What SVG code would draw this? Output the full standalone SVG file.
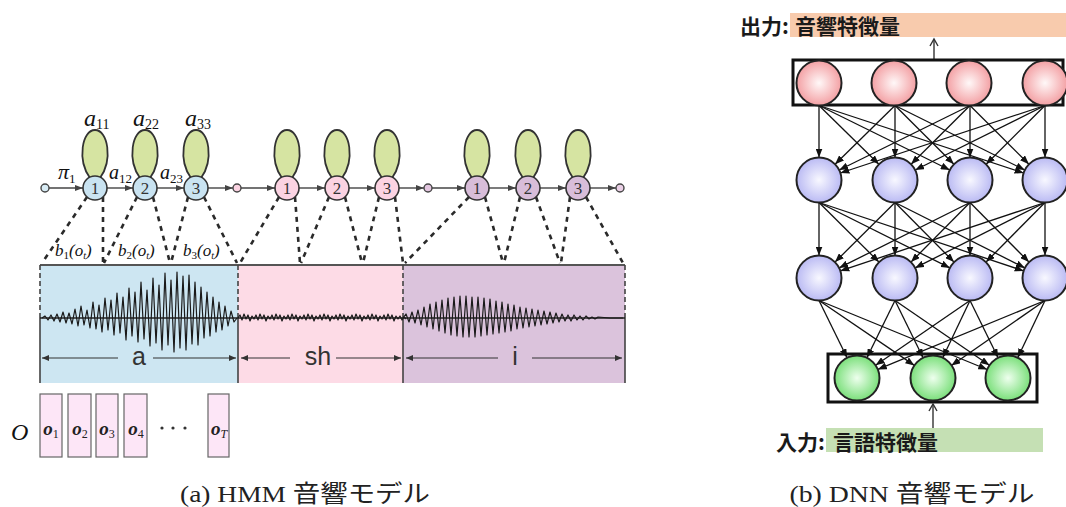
<svg xmlns="http://www.w3.org/2000/svg" width="1066" height="507" viewBox="0 0 1066 507">
<style>
.loop{fill:#d6e4a2;stroke:#333;stroke-width:1.8}
.sb{fill:#c9e3f1;stroke:#333;stroke-width:1.6}
.sp{fill:#fbd3e2;stroke:#333;stroke-width:1.6}
.su{fill:#d8bdd9;stroke:#333;stroke-width:1.6}
.num{font-family:"Liberation Serif",serif;font-size:17px;fill:#333;text-anchor:middle}
.mi{font-family:"Liberation Serif",serif;font-style:italic;fill:#111}
.tr{stroke:#444;stroke-width:1.4;fill:none;marker-end:url(#ah)}
.dash{stroke:#2a2a2a;stroke-width:2.6;stroke-dasharray:5 5;fill:none}
.vb{stroke:#444;stroke-width:1.6;fill:none}
.vd{stroke:#444;stroke-width:1.6;stroke-dasharray:5 3;fill:none}
.wave{stroke:#1a1a1a;stroke-width:1.2;fill:none;stroke-linejoin:round}
.dim{stroke:#333;stroke-width:1.2;fill:none;marker-end:url(#ah2)}
.ph{font-family:"Liberation Sans","DejaVu Sans",sans-serif;font-size:25px;fill:#333;text-anchor:middle}
.ob{fill:#fde6f7;stroke:#666;stroke-width:1.2}
.ot{font-family:"Liberation Serif",serif;font-style:italic;font-weight:bold;font-size:19px;fill:#222;text-anchor:middle}
.nn{stroke:#111;stroke-width:1.3;fill:none;marker-end:url(#ah3)}
.nc{stroke:#222;stroke-width:2}
.lay{fill:none;stroke:#111;stroke-width:3}
.jp{font-family:"Noto Sans CJK JP",sans-serif;font-weight:bold;font-size:21px;fill:#1a1a1a}
.cap{font-family:"Liberation Serif","Noto Sans CJK JP",serif;font-size:24px;fill:#222;text-anchor:middle}
</style>
<defs>
<marker id="ah" markerUnits="userSpaceOnUse" markerWidth="8" markerHeight="6" refX="8" refY="3" orient="auto"><path d="M0,0 L8,3 L0,6 z" fill="#444"/></marker>
<marker id="ah2" markerUnits="userSpaceOnUse" markerWidth="7" markerHeight="6" refX="7" refY="3" orient="auto"><path d="M0,0 L7,3 L0,6 z" fill="#333"/></marker>
<marker id="ah3" markerUnits="userSpaceOnUse" markerWidth="9" markerHeight="7" refX="9" refY="3.5" orient="auto"><path d="M0,0 L9,3.5 L0,7 z" fill="#111"/></marker>
<marker id="ao" markerUnits="userSpaceOnUse" markerWidth="10" markerHeight="10" refX="8" refY="5" orient="auto"><path d="M1,1 L8,5 L1,9" fill="none" stroke="#333" stroke-width="1.4"/></marker>
<radialGradient id="gR" cx="50%" cy="50%" r="55%"><stop offset="0" stop-color="#fff8f8"/><stop offset="1" stop-color="#f2979b"/></radialGradient>
<radialGradient id="gB" cx="50%" cy="50%" r="55%"><stop offset="0" stop-color="#f8f8ff"/><stop offset="1" stop-color="#b4b4f2"/></radialGradient>
<radialGradient id="gG" cx="50%" cy="50%" r="55%"><stop offset="0" stop-color="#eeffee"/><stop offset="1" stop-color="#6fdc6f"/></radialGradient>
</defs>

<!-- ===== (a) HMM ===== -->
<g id="waveform">
<rect x="40" y="265" width="198" height="118" fill="#cde6f2"/>
<rect x="238" y="265" width="165" height="118" fill="#fddbe6"/>
<rect x="403" y="265" width="222" height="118" fill="#dbc3dc"/>
<line x1="40" y1="265" x2="625" y2="265" stroke="#555" stroke-width="2"/>
<path class="vd" d="M40,265 V318 M238,265 V318 M403,265 V318 M625,265 V318"/>
<path class="vb" d="M40,318 V383 M238,318 V383 M403,318 V383 M625,318 V383"/>
<line x1="40" y1="318" x2="625" y2="318" stroke="#222" stroke-width="1.5"/>
<polyline class="wave" points="42,318 45,316 48,320 51,315 54,321 57,314 60,322 63,312 66,323 69,313 72,324 75,309 78,326 81,306 84,325 87,310 90,328 93,302 96,329 99,305 102,332 105,298 108,330 111,300 114,335 117,293 120,333 123,297 126,340 129,288 132,336 135,292 138,342 141,282 144,339 147,290 150,346 153,278 156,343 159,285 162,350 165,273 168,345 171,280 174,352 177,272 180,348 183,276 186,350 189,275 192,344 195,282 198,345 201,287 204,338 207,292 210,336 213,297 216,332 219,302 222,330 225,306 228,326 231,311 234,322 237,318"/>
<path class="wave" d="M238,318 l2,-3 l2,5 l2,-6 l2,5 l2,-4 l2,6 l2,-5 l2,3 l2,-4 l2,5 l2,-6 l2,5 l2,-4 l2,6 l2,-5 l2,3 l2,-4 l2,5 l2,-6 l2,5 l2,-4 l2,6 l2,-5 l2,3 l2,-4 l2,5 l2,-6 l2,5 l2,-4 l2,6 l2,-5 l2,3 l2,-4 l2,5 l2,-6 l2,5 l2,-4 l2,6 l2,-5 l2,3 l2,-4 l2,5 l2,-6 l2,5 l2,-4 l2,6 l2,-5 l2,3 l2,-4 l2,5 l2,-6 l2,5 l2,-4 l2,6 l2,-5 l2,3 l2,-4 l2,5 l2,-6 l2,5 l2,-4 l2,6 l2,-5 l2,3 l2,-4 l2,5 l2,-6 l2,5 l2,-4 l2,6 l2,-5 l2,3 l2,-4 l2,5 l2,-6 l2,5 l2,-4 l2,6 l2,-5 l2,3 l2,-3 l2,4 l2,-3 l2,2"/>
<polyline class="wave" points="403,318 406,314 409,322 412,312 415,323 418,310 421,325 424,307 427,327 430,304 433,329 436,302 439,331 442,300 445,333 448,298 451,335 454,297 457,336 460,296 463,337 466,296 469,337 472,297 475,337 478,297 481,336 484,298 487,335 490,299 493,334 496,301 499,333 502,302 505,332 508,304 511,331 514,305 517,329 520,307 523,328 526,308 529,327 532,309 535,326 538,310 541,325 544,311 547,324 550,312 553,323 556,313 559,322 562,314 565,321 568,315 571,321 574,315 577,320 580,316 583,320 586,316 589,319 592,317 595,319 598,317 610,318 623,318"/>
</g>

<g id="phone-labels">
<line class="dim" x1="118" y1="358" x2="42" y2="358"/>
<line class="dim" x1="153" y1="358" x2="236" y2="358"/>
<text class="ph" x="139" y="365">a</text>
<line class="dim" x1="290" y1="358" x2="241" y2="358"/>
<line class="dim" x1="336" y1="358" x2="401" y2="358"/>
<text class="ph" x="318" y="365">sh</text>
<line class="dim" x1="498" y1="358" x2="406" y2="358"/>
<line class="dim" x1="532" y1="358" x2="622" y2="358"/>
<text class="ph" x="515" y="365">i</text>
</g>

<g id="emissions">
<path class="dash" d="M87,197 L42,263 M103,197 L103,263 M137,197 L104,263 M153,197 L170,263 M188,197 L171,263 M204,197 L237,263"/>
<path class="dash" d="M279,197 L240,263 M295,197 L300,263 M329,197 L301,263 M345,197 L362,263 M379,197 L363,263 M395,197 L403,263"/>
<path class="dash" d="M469,197 L405,263 M485,197 L503,263 M520,197 L504,263 M536,197 L560,263 M570,197 L561,263 M586,197 L623,263"/>
<text class="mi" x="55" y="256" font-size="17">b<tspan font-size="11" dy="3" font-style="normal">1</tspan><tspan dy="-3">(</tspan>o<tspan font-size="10" dy="3">t</tspan><tspan dy="-3">)</tspan></text>
<text class="mi" x="118" y="256" font-size="17">b<tspan font-size="11" dy="3" font-style="normal">2</tspan><tspan dy="-3">(</tspan>o<tspan font-size="10" dy="3">t</tspan><tspan dy="-3">)</tspan></text>
<text class="mi" x="183" y="256" font-size="17">b<tspan font-size="11" dy="3" font-style="normal">3</tspan><tspan dy="-3">(</tspan>o<tspan font-size="10" dy="3">t</tspan><tspan dy="-3">)</tspan></text>
</g>

<g id="hmm-transitions">
<circle cx="45" cy="188" r="4" fill="#d8ecf5" stroke="#444" stroke-width="1.4"/>
<circle cx="237" cy="188" r="4" fill="#fbd3e2" stroke="#444" stroke-width="1.4"/>
<circle cx="428" cy="188" r="4" fill="#e3c6e0" stroke="#444" stroke-width="1.4"/>
<circle cx="620" cy="188" r="4" fill="#ead0e6" stroke="#444" stroke-width="1.4"/>
<line class="tr" x1="49" y1="188" x2="83" y2="188"/>
<line class="tr" x1="107" y1="188" x2="133" y2="188"/>
<line class="tr" x1="157" y1="188" x2="184" y2="188"/>
<line class="tr" x1="208" y1="188" x2="233" y2="188"/>
<line class="tr" x1="241" y1="188" x2="275" y2="188"/>
<line class="tr" x1="299" y1="188" x2="325" y2="188"/>
<line class="tr" x1="349" y1="188" x2="375" y2="188"/>
<line class="tr" x1="399" y1="188" x2="424" y2="188"/>
<line class="tr" x1="432" y1="188" x2="465" y2="188"/>
<line class="tr" x1="489" y1="188" x2="516" y2="188"/>
<line class="tr" x1="540" y1="188" x2="566" y2="188"/>
<line class="tr" x1="590" y1="188" x2="616" y2="188"/>
</g>

<g id="state-a1"><path class="loop" d="M90,178 C77,160 82,130 95,130 C108,130 113,160 100,178 Z"/><circle class="sb" cx="95" cy="188" r="12"/><text class="num" x="95" y="194">1</text></g>
<g id="state-a2"><path class="loop" d="M140,178 C127,160 132,130 145,130 C158,130 163,160 150,178 Z"/><circle class="sb" cx="145" cy="188" r="12"/><text class="num" x="145" y="194">2</text></g>
<g id="state-a3"><path class="loop" d="M191,178 C178,160 183,130 196,130 C209,130 214,160 201,178 Z"/><circle class="sb" cx="196" cy="188" r="12"/><text class="num" x="196" y="194">3</text></g>
<g id="state-sh1"><path class="loop" d="M282,178 C269,160 274,130 287,130 C300,130 305,160 292,178 Z"/><circle class="sp" cx="287" cy="188" r="12"/><text class="num" x="287" y="194">1</text></g>
<g id="state-sh2"><path class="loop" d="M332,178 C319,160 324,130 337,130 C350,130 355,160 342,178 Z"/><circle class="sp" cx="337" cy="188" r="12"/><text class="num" x="337" y="194">2</text></g>
<g id="state-sh3"><path class="loop" d="M382,178 C369,160 374,130 387,130 C400,130 405,160 392,178 Z"/><circle class="sp" cx="387" cy="188" r="12"/><text class="num" x="387" y="194">3</text></g>
<g id="state-i1"><path class="loop" d="M472,178 C459,160 464,130 477,130 C490,130 495,160 482,178 Z"/><circle class="su" cx="477" cy="188" r="12"/><text class="num" x="477" y="194">1</text></g>
<g id="state-i2"><path class="loop" d="M523,178 C510,160 515,130 528,130 C541,130 546,160 533,178 Z"/><circle class="su" cx="528" cy="188" r="12"/><text class="num" x="528" y="194">2</text></g>
<g id="state-i3"><path class="loop" d="M573,178 C560,160 565,130 578,130 C591,130 596,160 583,178 Z"/><circle class="su" cx="578" cy="188" r="12"/><text class="num" x="578" y="194">3</text></g>

<g id="hmm-labels">
<text class="mi" x="84" y="126" font-size="24">a<tspan font-size="14" dy="3" font-style="normal">11</tspan></text>
<text class="mi" x="133" y="126" font-size="24">a<tspan font-size="14" dy="3" font-style="normal">22</tspan></text>
<text class="mi" x="185" y="126" font-size="24">a<tspan font-size="14" dy="3" font-style="normal">33</tspan></text>
<text class="mi" x="58" y="179" font-size="22">π<tspan font-size="13" dy="4" font-style="normal">1</tspan></text>
<text class="mi" x="109" y="179" font-size="20">a<tspan font-size="13" dy="4" font-style="normal">12</tspan></text>
<text class="mi" x="160" y="179" font-size="20">a<tspan font-size="13" dy="4" font-style="normal">23</tspan></text>
</g>

<g id="observations">
<text class="mi" x="11" y="440" font-size="24">O</text>
<rect class="ob" x="40" y="394" width="22" height="63"/>
<rect class="ob" x="68" y="394" width="23" height="63"/>
<rect class="ob" x="96" y="394" width="22" height="63"/>
<rect class="ob" x="124" y="394" width="23" height="63"/>
<rect class="ob" x="208" y="394" width="21" height="63"/>
<text class="ot" x="51" y="435">o<tspan font-size="12" dy="3" font-style="normal" font-weight="normal">1</tspan></text>
<text class="ot" x="80" y="435">o<tspan font-size="12" dy="3" font-style="normal" font-weight="normal">2</tspan></text>
<text class="ot" x="107" y="435">o<tspan font-size="12" dy="3" font-style="normal" font-weight="normal">3</tspan></text>
<text class="ot" x="136" y="435">o<tspan font-size="12" dy="3" font-style="normal" font-weight="normal">4</tspan></text>
<text class="ot" x="219" y="435">o<tspan font-size="12" dy="3" font-style="italic" font-weight="normal">T</tspan></text>
<circle cx="162" cy="428" r="1.6" fill="#333"/>
<circle cx="173" cy="428" r="1.6" fill="#333"/>
<circle cx="185" cy="428" r="1.6" fill="#333"/>
</g>

<text class="cap" x="305" y="502" textLength="250" lengthAdjust="spacingAndGlyphs">(a) HMM 音響モデル</text>

<!-- ===== (b) DNN ===== -->
<g id="output-label">
<rect x="790" y="13" width="276" height="24" fill="#f8cbad"/>
<text class="jp" x="740" y="34">出力:</text>
<text class="jp" x="795" y="34">音響特徴量</text>
<line x1="934" y1="60" x2="934" y2="39" stroke="#333" stroke-width="1.4" marker-end="url(#ao)"/>
</g>

<g id="connectors">
<path class="nn" d="M819,105.5 L819,157.5"/>
<path class="nn" d="M819,105.5 L878.9,164.2"/>
<path class="nn" d="M819,105.5 L949.8,170"/>
<path class="nn" d="M819,105.5 L1023.6,173"/>
<path class="nn" d="M895,105.5 L835.1,164.2"/>
<path class="nn" d="M895,105.5 L895,157.5"/>
<path class="nn" d="M895,105.5 L953.9,164.2"/>
<path class="nn" d="M895,105.5 L1024.8,170"/>
<path class="nn" d="M970,105.5 L839.2,170"/>
<path class="nn" d="M970,105.5 L911.1,164.2"/>
<path class="nn" d="M970,105.5 L970,157.5"/>
<path class="nn" d="M970,105.5 L1028.9,164.2"/>
<path class="nn" d="M1045,105.5 L840.4,173"/>
<path class="nn" d="M1045,105.5 L915.2,170"/>
<path class="nn" d="M1045,105.5 L986.1,164.2"/>
<path class="nn" d="M1045,105.5 L1045,157.5"/>

<path class="nn" d="M819,202.5 L819,255.5"/>
<path class="nn" d="M819,202.5 L879,262.1"/>
<path class="nn" d="M819,202.5 L949.9,267.9"/>
<path class="nn" d="M819,202.5 L1023.7,270.9"/>
<path class="nn" d="M895,202.5 L835,262.1"/>
<path class="nn" d="M895,202.5 L895,255.5"/>
<path class="nn" d="M895,202.5 L954,262.1"/>
<path class="nn" d="M895,202.5 L1024.9,267.9"/>
<path class="nn" d="M970,202.5 L839.1,267.9"/>
<path class="nn" d="M970,202.5 L911,262.1"/>
<path class="nn" d="M970,202.5 L970,255.5"/>
<path class="nn" d="M970,202.5 L1029,262.1"/>
<path class="nn" d="M1045,202.5 L840.3,270.9"/>
<path class="nn" d="M1045,202.5 L915.1,267.9"/>
<path class="nn" d="M1045,202.5 L986,262.1"/>
<path class="nn" d="M1045,202.5 L1045,255.5"/>

<path class="nn" d="M819,300.5 L847.1,357.8"/>
<path class="nn" d="M819,300.5 L914.4,365.4"/>
<path class="nn" d="M819,300.5 L987.2,369.5"/>
<path class="nn" d="M895,300.5 L866.9,357.8"/>
<path class="nn" d="M895,300.5 L923.1,357.8"/>
<path class="nn" d="M895,300.5 L989.4,365.3"/>
<path class="nn" d="M970,300.5 L875.6,365.3"/>
<path class="nn" d="M970,300.5 L942.7,357.7"/>
<path class="nn" d="M970,300.5 L998.1,357.8"/>
<path class="nn" d="M1045,300.5 L877.8,369.4"/>
<path class="nn" d="M1045,300.5 L951.4,365.5"/>
<path class="nn" d="M1045,300.5 L1017.7,357.7"/>
</g>

<g id="output-layer">
<rect class="lay" x="793" y="60" width="270" height="45"/>
<circle class="nc" cx="819" cy="83" r="22.5" fill="url(#gR)"/>
<circle class="nc" cx="894" cy="83" r="22.5" fill="url(#gR)"/>
<circle class="nc" cx="969" cy="83" r="22.5" fill="url(#gR)"/>
<circle class="nc" cx="1045" cy="83" r="22.5" fill="url(#gR)"/>
</g>

<g id="hidden-layer-1">
<circle class="nc" cx="819" cy="180" r="22.5" fill="url(#gB)"/>
<circle class="nc" cx="895" cy="180" r="22.5" fill="url(#gB)"/>
<circle class="nc" cx="970" cy="180" r="22.5" fill="url(#gB)"/>
<circle class="nc" cx="1045" cy="180" r="22.5" fill="url(#gB)"/>
</g>

<g id="hidden-layer-2">
<circle class="nc" cx="819" cy="278" r="22.5" fill="url(#gB)"/>
<circle class="nc" cx="895" cy="278" r="22.5" fill="url(#gB)"/>
<circle class="nc" cx="970" cy="278" r="22.5" fill="url(#gB)"/>
<circle class="nc" cx="1045" cy="278" r="22.5" fill="url(#gB)"/>
</g>

<g id="input-layer">
<rect class="lay" x="828" y="354" width="209" height="48"/>
<circle class="nc" cx="857" cy="378" r="22.5" fill="url(#gG)"/>
<circle class="nc" cx="933" cy="378" r="22.5" fill="url(#gG)"/>
<circle class="nc" cx="1008" cy="378" r="22.5" fill="url(#gG)"/>
</g>

<g id="input-label">
<rect x="826" y="428" width="217" height="24" fill="#c5e0b4"/>
<line x1="933" y1="428" x2="933" y2="404" stroke="#333" stroke-width="1.4" marker-end="url(#ao)"/>
<text class="jp" x="776" y="450">入力:</text>
<text class="jp" x="833" y="450">言語特徴量</text>
</g>

<text class="cap" x="912" y="502" textLength="245" lengthAdjust="spacingAndGlyphs">(b) DNN 音響モデル</text>
</svg>
